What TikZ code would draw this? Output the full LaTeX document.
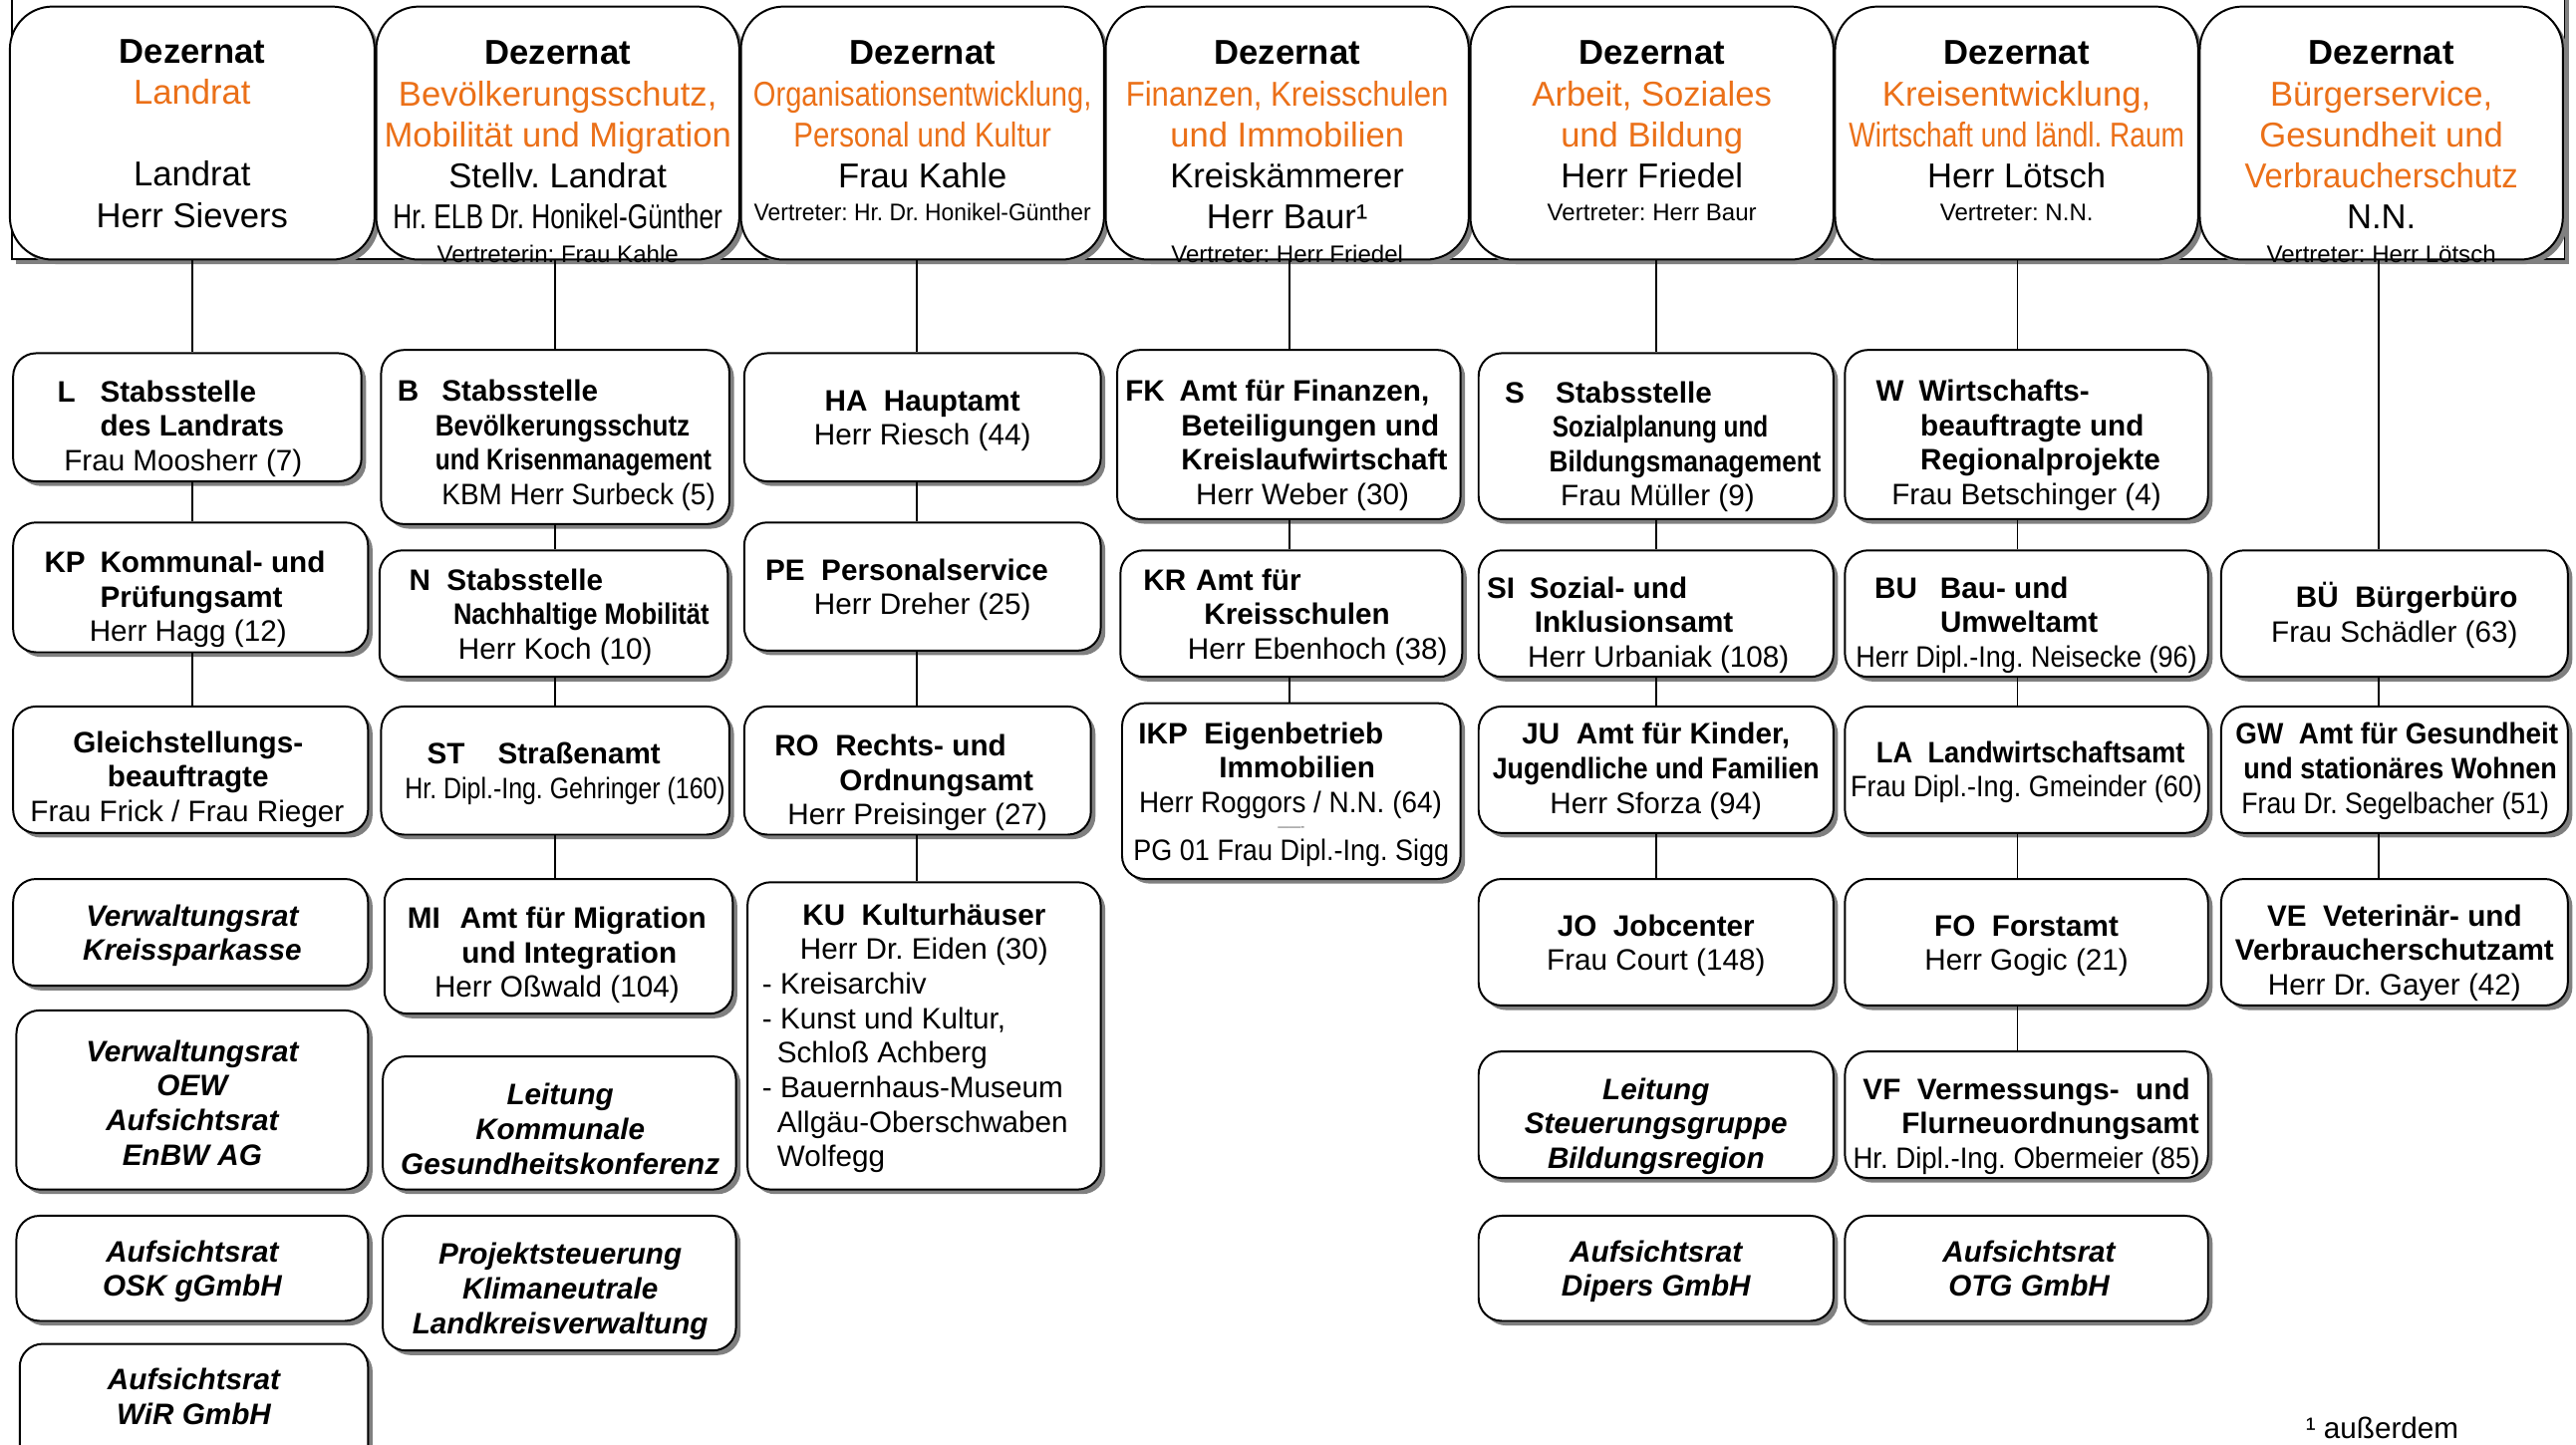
\documentclass[tikz,border=0pt]{standalone}
\usepackage{fontspec}
\setmainfont{Liberation Sans}
\usepackage{graphicx}
\usetikzlibrary{shadows}
\definecolor{hdrorange}{RGB}{235,112,24}
\definecolor{shadowgrey}{RGB}{128,128,128}
\newlength\dpx \setlength\dpx{0.5pt}
\newcommand\Lc[2]{\strut\makebox[0pt][c]{\hspace*{#1\dpx}\hspace*{#1\dpx}#2}}
\newcommand\Ll[2]{\strut\makebox[0pt][l]{\hspace*{#1\dpx}#2}}
\newcommand\Cl[1]{\Lc{0}{#1}}
\newcommand\sqz[2]{\scalebox{#1}[1]{#2}}
\newcommand\orng[1]{\textcolor{hdrorange}{#1}}
\newcommand\obox[6]{\node[#1, minimum width={(#5-#3)*0.5pt}, minimum height={(#6-#4)*0.5pt}] (#2) at ({(#3+#5)/2},{(#4+#6)/2}) {};}
\newcommand\tnode[5]{\node[txt,#2] (#1) at (#3,#4) {#5};}
\frenchspacing
\tikzset{
 shd/.style={drop shadow={shadow xshift=1.4pt,shadow yshift=-1.4pt,opacity=1,fill=shadowgrey}},
 hdr/.style={shape=rectangle, draw=black, line width=0.6pt, fill=white, rounded corners=13pt, shd, inner sep=0pt},
 ubox/.style={shape=rectangle, draw=black, line width=0.6pt, fill=white, rounded corners=7pt, shd, inner sep=0pt},
 frm/.style={shape=rectangle, draw=black, line width=0.6pt, fill=white, shd, inner sep=0pt},
 txt/.style={align=center, inner sep=0pt, yshift=-1.2pt, font=\fontsize{9}{10.5}\selectfont\frenchspacing},
 htxt/.style={font=\fontsize{10.5}{12.5}\selectfont\frenchspacing},
 stxt/.style={font=\fontsize{7.3}{8.5}\selectfont\frenchspacing},
 itxt/.style={font=\fontsize{9}{10.5}\selectfont\bfseries\itshape\frenchspacing},
 tiny/.style={font=\fontsize{3.5}{4}\selectfont, text=black!70},
 conn/.style={draw=black, line width=0.5pt},
}
\begin{document}
\frenchspacing
\begin{tikzpicture}[x=0.5pt,y=-0.5pt]
\useasboundingbox (0,0) rectangle (1568,879);
% frame behind headers
\obox{frm}{FR}{7}{-40}{1561}{158}
% header boxes
\obox{hdr}{H1}{6}{4}{228}{158}
\obox{hdr}{H2}{229}{4}{450}{158}
\obox{hdr}{H3}{451}{4}{672}{158}
\obox{hdr}{H4}{673}{4}{894}{158}
\obox{hdr}{H5}{895}{4}{1116}{158}
\obox{hdr}{H6}{1117}{4}{1338}{158}
\obox{hdr}{H7}{1339}{4}{1560}{158}
\tnode{tH1}{htxt}{117}{81}{\Cl{\textbf{Dezernat}}\\\Cl{\orng{Landrat}}\\\Cl{}\\\Cl{Landrat}\\\Cl{Herr Sievers}}
\tnode{tH2}{htxt}{339.5}{82}{\Cl{\textbf{Dezernat}}\\\Cl{\orng{Bevölkerungsschutz,}}\\\Cl{\orng{Mobilität und Migration}}\\\Cl{Stellv. Landrat}\\\Cl{\sqz{.76}{Hr. ELB Dr. Honikel-Günther}}}
\tnode{sH2}{stxt}{339.5}{154}{\Cl{Vertreterin: Frau Kahle}}
\tnode{tH3}{htxt}{561.5}{69.5}{\Cl{\textbf{Dezernat}}\\\Cl{\orng{\sqz{.84}{Organisationsentwicklung,}}}\\\Cl{\orng{\sqz{.85}{Personal und Kultur}}}\\\Cl{Frau Kahle}}
\tnode{sH3}{stxt}{561.5}{128.5}{\Cl{\sqz{.95}{Vertreter: Hr. Dr. Honikel-Günther}}}
\tnode{tH4}{htxt}{783.5}{82}{\Cl{\textbf{Dezernat}}\\\Cl{\orng{\sqz{.9}{Finanzen, Kreisschulen}}}\\\Cl{\orng{und Immobilien}}\\\Cl{Kreiskämmerer}\\\Cl{Herr Baur¹}}
\tnode{sH4}{stxt}{783.5}{154}{\Cl{Vertreter: Herr Friedel}}
\tnode{tH5}{htxt}{1005.5}{69.5}{\Cl{\textbf{Dezernat}}\\\Cl{\orng{Arbeit, Soziales}}\\\Cl{\orng{und Bildung}}\\\Cl{Herr Friedel}}
\tnode{sH5}{stxt}{1005.5}{128.5}{\Cl{Vertreter: Herr Baur}}
\tnode{tH6}{htxt}{1227.5}{69.5}{\Cl{\textbf{Dezernat}}\\\Cl{\orng{Kreisentwicklung,}}\\\Cl{\orng{\sqz{.81}{Wirtschaft und ländl. Raum}}}\\\Cl{Herr Lötsch}}
\tnode{sH6}{stxt}{1227.5}{128.5}{\Cl{Vertreter: N.N.}}
\tnode{tH7}{htxt}{1449.5}{82}{\Cl{\textbf{Dezernat}}\\\Cl{\orng{Bürgerservice,}}\\\Cl{\orng{Gesundheit und}}\\\Cl{\orng{\sqz{.95}{Verbraucherschutz}}}\\\Cl{N.N.}}
\tnode{sH7}{stxt}{1449.5}{154}{\Cl{Vertreter: Herr Lötsch}}
% column coordinates
\coordinate (x1) at (117,0);
\coordinate (x2) at (338,0);
\coordinate (x3) at (558,0);
\coordinate (x4) at (785,0);
\coordinate (x5) at (1008,0);
\coordinate (x6) at (1228,0);
\coordinate (x7) at (1448,0);
% column 1
\obox{ubox}{L}{8}{215}{220}{293}
\tnode{tL}{}{114}{259}{\Ll{-79}{\textbf{L}}\Ll{-53}{\textbf{Stabsstelle}}\\\Ll{-53}{\textbf{des Landrats}}\\\Lc{-2.5}{Frau Moosherr (7)}}
\obox{ubox}{KP}{8}{318}{224}{397}
\tnode{tKP}{}{116}{363}{\Ll{-89}{\textbf{KP}}\Ll{-55}{\textbf{Kommunal- und}}\\\Ll{-55}{\textbf{Prüfungsamt}}\\\Lc{-1.5}{Herr Hagg (12)}}
\obox{ubox}{G}{8}{430}{224}{507}
\tnode{tG}{}{116}{472.5}{\Lc{-1.5}{\textbf{Gleichstellungs-}}\\\Lc{-1.5}{\textbf{beauftragte}}\\\Lc{-2}{Frau Frick / Frau Rieger}}
\obox{ubox}{VK}{8}{535}{224}{600}
\tnode{tVK}{itxt}{117}{567.5}{\Cl{Verwaltungsrat}\\\Cl{Kreissparkasse}}
\obox{ubox}{OEW}{10}{615}{224}{724}
\tnode{tOEW}{itxt}{117}{671}{\Cl{Verwaltungsrat}\\\Cl{OEW}\\\Cl{Aufsichtsrat}\\\Cl{EnBW AG}}
\obox{ubox}{OSK}{10}{740}{224}{804}
\tnode{tOSK}{itxt}{117}{772}{\Cl{Aufsichtsrat}\\\Cl{OSK gGmbH}}
\obox{ubox}{WIR}{12}{818}{224}{900}
\tnode{tWIR}{itxt}{118}{850}{\Cl{Aufsichtsrat}\\\Cl{WiR GmbH}}
% column 2
\obox{ubox}{B}{232}{213}{444}{319}
\tnode{tB}{}{338}{269}{\Ll{-96}{\textbf{B}}\Ll{-69}{\textbf{Stabsstelle}}\\\Ll{-73}{\textbf{\sqz{.88}{Bevölkerungsschutz}}}\\\Ll{-73}{\textbf{\sqz{.82}{und Krisenmanagement}}}\\\Ll{-69}{\sqz{.94}{KBM Herr Surbeck (5)}}}
\obox{ubox}{N}{231}{335}{443}{412}
\tnode{tN}{}{337}{373.5}{\Ll{-88}{\textbf{N}}\Ll{-65}{\textbf{Stabsstelle}}\\\Ll{-61}{\textbf{\sqz{.86}{Nachhaltige Mobilität}}}\\\Ll{-58}{Herr Koch (10)}}
\obox{ubox}{ST}{232}{430}{444}{508}
\tnode{tST}{}{338}{469}{\Ll{-78}{\textbf{ST}}\Ll{-35}{\textbf{Straßenamt}}\\\Lc{6}{\sqz{.84}{Hr. Dipl.-Ing. Gehringer (160)}}}
\obox{ubox}{MI}{234}{535}{446}{617}
\tnode{tMI}{}{340}{579.5}{\Ll{-92}{\textbf{MI}}\Ll{-60}{\textbf{Amt für Migration}}\\\Lc{6.5}{\textbf{und Integration}}\\\Lc{-1}{Herr Oßwald (104)}}
\obox{ubox}{LKG}{233}{643}{448}{724}
\tnode{tLKG}{itxt}{341}{687}{\Cl{Leitung}\\\Cl{Kommunale}\\\Cl{Gesundheitskonferenz}}
\obox{ubox}{PKL}{233}{740}{448}{822}
\tnode{tPKL}{itxt}{341}{784}{\Cl{Projektsteuerung}\\\Cl{Klimaneutrale}\\\Cl{Landkreisverwaltung}}
% column 3
\obox{ubox}{HA}{453}{215}{670}{293}
\tnode{tHA}{}{561.5}{254}{\Cl{\textbf{HA~~Hauptamt}}\\\Cl{Herr Riesch (44)}}
\obox{ubox}{PE}{453}{318}{670}{396}
\tnode{tPE}{}{561.5}{357}{\Lc{-9.5}{\textbf{PE~~Personalservice}}\\\Cl{Herr Dreher (25)}}
\obox{ubox}{RO}{453}{430}{664}{508}
\tnode{tRO}{}{558.5}{474.5}{\Lc{-16.5}{\textbf{RO~~Rechts- und}}\\\Lc{11.5}{\textbf{Ordnungsamt}}\\\Cl{Herr Preisinger (27)}}
\obox{ubox}{KU}{455}{537}{670}{724}
\tnode{tKU}{}{562.5}{630}{\Cl{\textbf{KU~~Kulturhäuser}}\\\Cl{Herr Dr. Eiden (30)}\\\Ll{-98.5}{- Kreisarchiv}\\\Ll{-98.5}{- Kunst und Kultur,}\\\Ll{-89.5}{Schloß Achberg}\\\Ll{-98.5}{- Bauernhaus-Museum}\\\Ll{-89.5}{Allgäu-Oberschwaben}\\\Ll{-89.5}{Wolfegg}}
% column 4
\obox{ubox}{FK}{680}{213}{889}{316}
\tnode{tFK}{}{784.5}{269}{\Ll{-99.5}{\textbf{FK}}\Ll{-66.5}{\textbf{Amt für Finanzen,}}\\\Ll{-65.5}{\textbf{Beteiligungen und}}\\\Ll{-65.5}{\textbf{Kreislaufwirtschaft}}\\\Ll{-56.5}{Herr Weber (30)}}
\obox{ubox}{KR}{682}{335}{890}{412}
\tnode{tKR}{}{786}{373.5}{\Ll{-90}{\textbf{KR}}\Ll{-58}{\textbf{Amt für}}\\\Ll{-53}{\textbf{Kreisschulen}}\\\Ll{-63}{Herr Ebenhoch (38)}}
\obox{ubox}{IKP}{683}{428}{889}{535}
\tnode{tIKP}{}{786}{467}{\Ll{-93}{\textbf{IKP}}\Ll{-53}{\textbf{Eigenbetrieb}}\\\Ll{-44}{\textbf{Immobilien}}\\\Lc{-0.5}{\sqz{.94}{Herr Roggors / N.N. (64)}}}
\tnode{dIKP}{tiny}{786}{501.5}{\Cl{-------}}
\tnode{pIKP}{}{786}{517}{\Cl{\sqz{.91}{PG 01 Frau Dipl.-Ing. Sigg}}}
% column 5
\obox{ubox}{S}{900}{215}{1116}{316}
\tnode{tS}{}{1008}{270}{\Ll{-92}{\textbf{S}}\Ll{-61}{\textbf{Stabsstelle}}\\\Ll{-63}{\textbf{\sqz{.82}{Sozialplanung und}}}\\\Ll{-65}{\textbf{\sqz{.88}{Bildungsmanagement}}}\\\Ll{-58}{Frau Müller (9)}}
\obox{ubox}{SI}{900}{335}{1116}{412}
\tnode{tSI}{}{1008}{378.5}{\Ll{-103}{\textbf{SI}}\Ll{-77}{\textbf{Sozial- und}}\\\Ll{-74}{\textbf{Inklusionsamt}}\\\Ll{-78}{Herr Urbaniak (108)}}
\obox{ubox}{JU}{900}{430}{1116}{507}
\tnode{tJU}{}{1008}{467.5}{\Cl{\textbf{JU~~Amt für Kinder,}}\\\Cl{\textbf{\sqz{.9}{Jugendliche und Familien}}}\\\Cl{Herr Sforza (94)}}
\obox{ubox}{JO}{900}{535}{1116}{612}
\tnode{tJO}{}{1008}{573.5}{\Cl{\textbf{JO~~Jobcenter}}\\\Cl{Frau Court (148)}}
\obox{ubox}{LSB}{900}{640}{1116}{717}
\tnode{tLSB}{itxt}{1008}{683.5}{\Cl{Leitung}\\\Cl{Steuerungsgruppe}\\\Cl{Bildungsregion}}
\obox{ubox}{ADG}{900}{740}{1116}{804}
\tnode{tADG}{itxt}{1008}{772}{\Cl{Aufsichtsrat}\\\Cl{Dipers GmbH}}
% column 6
\obox{ubox}{W}{1123}{213}{1344}{316}
\tnode{tW}{}{1233.5}{269}{\Ll{-91.5}{\textbf{W}}\Ll{-65.5}{\textbf{Wirtschafts-}}\\\Ll{-64.5}{\textbf{beauftragte und}}\\\Ll{-64.5}{\textbf{Regionalprojekte}}\\\Cl{Frau Betschinger (4)}}
\obox{ubox}{BU}{1123}{335}{1344}{412}
\tnode{tBU}{}{1233.5}{378.5}{\Ll{-92.5}{\textbf{BU}}\Ll{-52.5}{\textbf{Bau- und}}\\\Ll{-52.5}{\textbf{Umweltamt}}\\\Cl{\sqz{.91}{Herr Dipl.-Ing. Neisecke (96)}}}
\obox{ubox}{LA}{1123}{430}{1344}{507}
\tnode{tLA}{}{1233.5}{468}{\Lc{2.5}{\textbf{\sqz{.92}{LA~~Landwirtschaftsamt}}}\\\Cl{\sqz{.91}{Frau Dipl.-Ing. Gmeinder (60)}}}
\obox{ubox}{FO}{1123}{535}{1344}{612}
\tnode{tFO}{}{1233.5}{573.5}{\Cl{\textbf{FO~~Forstamt}}\\\Cl{Herr Gogic (21)}}
\obox{ubox}{VF}{1123}{640}{1344}{717}
\tnode{tVF}{}{1233.5}{683.5}{\Cl{\textbf{VF~~Vermessungs-~~und}}\\\Lc{14.5}{\textbf{Flurneuordnungsamt}}\\\Cl{\sqz{.93}{Hr. Dipl.-Ing. Obermeier (85)}}}
\obox{ubox}{OTG}{1123}{740}{1344}{804}
\tnode{tOTG}{itxt}{1235}{772}{\Cl{Aufsichtsrat}\\\Cl{OTG GmbH}}
% column 7
\obox{ubox}{BUE}{1352}{335}{1563}{412}
\tnode{tBUE}{}{1457.5}{373.5}{\Lc{7.5}{\textbf{BÜ~~Bürgerbüro}}\\\Cl{Frau Schädler (63)}}
\obox{ubox}{GW}{1352}{430}{1563}{507}
\tnode{tGW}{}{1457.5}{467.5}{\Lc{1.5}{\textbf{\sqz{.94}{GW~~Amt für Gesundheit}}}\\\Lc{3.5}{\textbf{\sqz{.91}{und stationäres Wohnen}}}\\\Lc{0.5}{\sqz{.9}{Frau Dr. Segelbacher (51)}}}
\obox{ubox}{VE}{1352}{535}{1563}{612}
\tnode{tVE}{}{1457.5}{578}{\Cl{\textbf{VE~~Veterinär- und}}\\\Cl{\textbf{Verbraucherschutzamt}}\\\Cl{Herr Dr. Gayer (42)}}
% footnote
\tnode{fn}{}{1450}{869}{\Cl{¹ außerdem}}
% connectors
\foreach \a/\b/\c in {H1/L/x1, L/KP/x1, KP/G/x1, H2/B/x2, B/N/x2, N/ST/x2, ST/MI/x2, H3/HA/x3, HA/PE/x3, PE/RO/x3, RO/KU/x3, H4/FK/x4, FK/KR/x4, KR/IKP/x4, H5/S/x5, S/SI/x5, SI/JU/x5, JU/JO/x5, H6/W/x6, W/BU/x6, BU/LA/x6, LA/FO/x6, FO/VF/x6, H7/BUE/x7, BUE/GW/x7, GW/VE/x7}
  \draw[conn] (\a.south -| \c) -- (\b.north -| \c);
\end{tikzpicture}
\end{document}
